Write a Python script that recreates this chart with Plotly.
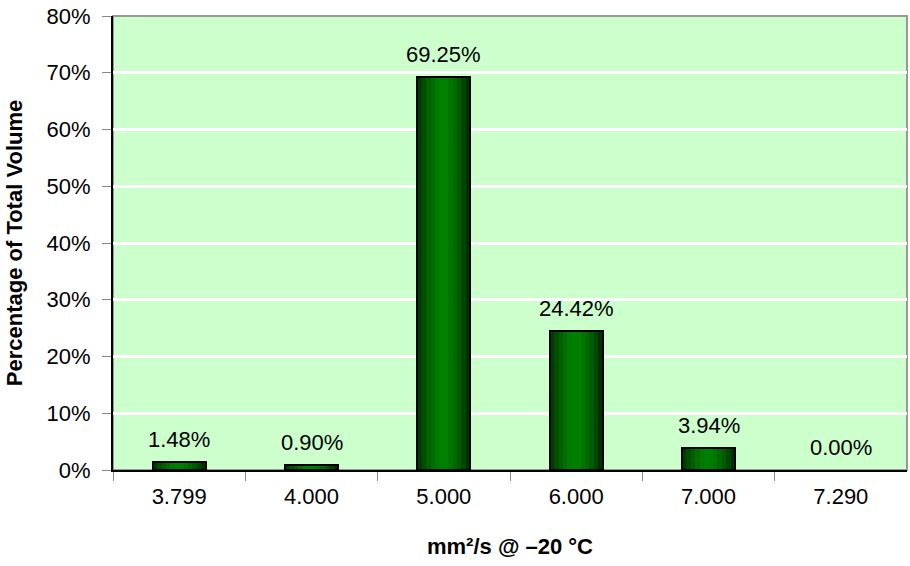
import plotly.graph_objects as go

categories = ["3.799", "4.000", "5.000", "6.000", "7.000", "7.290"]
values = [1.48, 0.90, 69.25, 24.42, 3.94, 0.00]
labels = ["1.48%", "0.90%", "69.25%", "24.42%", "3.94%", "0.00%"]
y_ticks = [0, 10, 20, 30, 40, 50, 60, 70, 80]
y_tick_text = ["0%", "10%", "20%", "30%", "40%", "50%", "60%", "70%", "80%"]

FONT = "Arial, Liberation Sans, sans-serif"
BAR_W = 0.4
positions = list(range(len(categories)))

fig = go.Figure()

# gradient simulation: thin vertical strips (dark edges, bright centre)
strip_colors = ["#003c00", "#004e00", "#006000", "#006e00", "#007a00", "#008000",
                "#007e00", "#007600", "#006a00", "#005a00", "#004800", "#003200"]
n = len(strip_colors)
sw = BAR_W / n
for i, c in enumerate(strip_colors):
    fig.add_trace(go.Bar(
        x=positions, y=values, width=sw, offset=-BAR_W / 2 + i * sw,
        marker=dict(color=c, line=dict(width=0)),
        hoverinfo="skip", showlegend=False))

# outline
fig.add_trace(go.Bar(
    x=positions, y=values, width=BAR_W,
    marker=dict(color="rgba(0,0,0,0)",
                line=dict(color="black", width=[2 if v > 0 else 0 for v in values])),
    showlegend=False))

for p, v, t in zip(positions, values, labels):
    fig.add_annotation(x=p, y=v, text=t, showarrow=False, yanchor="bottom",
                       yshift=8, font=dict(family=FONT, size=22, color="black"))

# gray frame (top/right)
fig.add_shape(type="rect", xref="paper", yref="paper", x0=0, x1=1, y0=0, y1=1,
              line=dict(color="#999999", width=2), layer="below")

fig.update_layout(
    width=910, height=566,
    margin=dict(l=113, r=3, t=16, b=96),
    paper_bgcolor="white", plot_bgcolor="#CCFFCC",
    barmode="overlay", bargap=0,
    font=dict(family=FONT, size=22, color="black"),
    xaxis=dict(
        range=[-0.5, len(categories) - 0.5],
        tickmode="array", tickvals=positions, ticktext=categories,
        ticks="outside", ticklen=6, tickcolor="rgba(0,0,0,0)",
        showline=True, linecolor="black", linewidth=2,
        showgrid=False, zeroline=False, tickfont=dict(size=22),
        minor=dict(tickmode="array", tickvals=[p + 0.5 for p in positions[:-1]] + [-0.5],
                   ticks="outside", ticklen=9, tickcolor="#888888", showgrid=False),
        title=dict(text="<b>mm²/s @ –20 °C</b>", font=dict(size=22), standoff=30),
    ),
    yaxis=dict(
        range=[0, 80], tickvals=y_ticks, ticktext=y_tick_text,
        ticks="outside", ticklen=9, tickcolor="#888888", ticklabelstandoff=7,
        showline=True, linecolor="black", linewidth=2,
        showgrid=True, gridcolor="white", gridwidth=3, zeroline=False,
        tickfont=dict(size=22),
        title=dict(text="<b>Percentage of Total Volume</b>", font=dict(size=22), standoff=18),
    ),
)

fig.write_html("out.html", config={"displayModeBar": False},
               post_script="document.body.style.margin='0';")
